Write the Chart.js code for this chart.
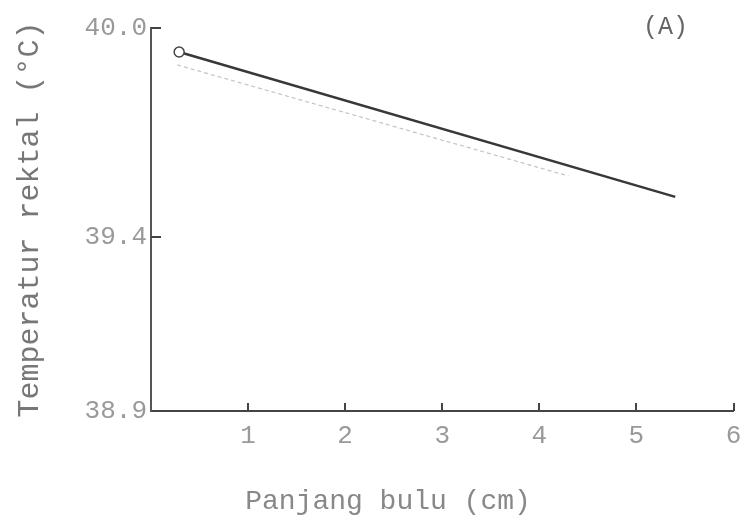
<!DOCTYPE html>
<html>
<head>
<meta charset="utf-8">
<script src="https://cdn.jsdelivr.net/npm/chart.js@4.4.1/dist/chart.umd.min.js"></script>
<style>
  html, body { margin: 0; padding: 0; background: #fff; }
  #wrap { width: 740px; height: 523px; }
</style>
</head>
<body>
<div id="wrap"><canvas id="chart" width="740" height="523"></canvas></div>
<script>
(function () {
  'use strict';

  const FONT = "'Liberation Mono', 'DejaVu Sans Mono', monospace";

  // Axis ticks
  const xTicks = [1, 2, 3, 4, 5, 6];
  const yTicks = [38.9, 39.4, 40.0];

  // Dark regression line (with open circle at its start)
  const panjangBulu = [0.29, 5.40];
  const suhuRektal = [39.931, 39.515];

  // Faint second line just below it
  const panjangBuluTipis = [0.27, 4.30];
  const suhuRektalTipis = [39.894, 39.575];

  const toPoints = (xs, ys) => xs.map((x, i) => ({ x: x, y: ys[i] }));

  // Inward tick marks, panel letter and x title, like the typed original
  const paperMarks = {
    id: 'paperMarks',
    afterDraw(chart) {
      const { ctx, chartArea } = chart;
      const x = chart.scales.x;
      const y = chart.scales.y;
      ctx.save();
      ctx.strokeStyle = '#444';
      ctx.lineWidth = 2;
      xTicks.forEach((v) => {
        const px = Math.round(x.getPixelForValue(v));
        ctx.beginPath();
        ctx.moveTo(px, chartArea.bottom);
        ctx.lineTo(px, chartArea.bottom - 8);
        ctx.stroke();
      });
      yTicks.slice(1).forEach((v) => {
        const py = Math.round(y.getPixelForValue(v));
        ctx.beginPath();
        ctx.moveTo(chartArea.left, py);
        ctx.lineTo(chartArea.left + 10, py);
        ctx.stroke();
      });

      ctx.textBaseline = 'middle';
      ctx.fillStyle = '#666';
      ctx.font = '25px ' + FONT;
      ctx.textAlign = 'center';
      ctx.fillText('(A)', x.getPixelForValue(5.3), chartArea.top - 1);

      ctx.fillStyle = '#888';
      ctx.font = '28px ' + FONT;
      ctx.textAlign = 'left';
      ctx.fillText('Panjang bulu (cm)', x.getPixelForValue(0.97), chartArea.bottom + 91);
      ctx.restore();
    },
  };

  new Chart(document.getElementById('chart'), {
    type: 'line',
    data: {
      datasets: [
        {
          data: toPoints(panjangBuluTipis, suhuRektalTipis),
          borderColor: '#c4c4c4',
          borderWidth: 1.2,
          borderDash: [4, 3],
          pointRadius: 0,
          fill: false,
        },
        {
          data: toPoints(panjangBulu, suhuRektal),
          borderColor: '#383838',
          borderWidth: 2.5,
          pointRadius: [5, 0],
          pointBorderColor: '#444',
          pointBackgroundColor: '#fff',
          pointBorderWidth: 1.5,
          fill: false,
        },
      ],
    },
    options: {
      responsive: false,
      animation: false,
      devicePixelRatio: 1,
      layout: { padding: { top: 28, right: 5, bottom: 0, left: 0 } },
      plugins: {
        legend: { display: false },
        tooltip: { enabled: false },
      },
      scales: {
        x: {
          type: 'linear',
          min: 0,
          max: 6,
          afterBuildTicks: (scale) => {
            scale.ticks = xTicks.map((v) => ({ value: v }));
          },
          afterFit: (scale) => {
            scale.height = 112;
            scale.paddingLeft = 0;
            scale.paddingRight = 0;
          },
          grid: { display: false, drawTicks: false },
          border: { display: true, color: '#444', width: 2 },
          ticks: {
            padding: 10,
            color: '#999',
            font: { family: FONT, size: 26 },
            maxRotation: 0,
            callback: (v) => String(v),
          },
        },
        y: {
          type: 'linear',
          min: 38.9,
          max: 40.0,
          afterBuildTicks: (scale) => {
            scale.ticks = yTicks.map((v) => ({ value: v }));
          },
          afterFit: (scale) => {
            scale.width = 151;
            scale.paddingTop = 0;
            scale.paddingBottom = 0;
          },
          grid: { display: false, drawTicks: false },
          border: { display: true, color: '#555', width: 2 },
          ticks: {
            padding: 4,
            color: '#999',
            font: { family: FONT, size: 26 },
            callback: (v) => Number(v).toFixed(1),
          },
          title: {
            display: true,
            text: 'Temperatur rektal (°C)',
            color: '#777',
            font: { family: FONT, size: 30 },
            padding: { top: 12, bottom: 0 },
          },
        },
      },
    },
    plugins: [paperMarks],
  });
})();
</script>
</body>
</html>
